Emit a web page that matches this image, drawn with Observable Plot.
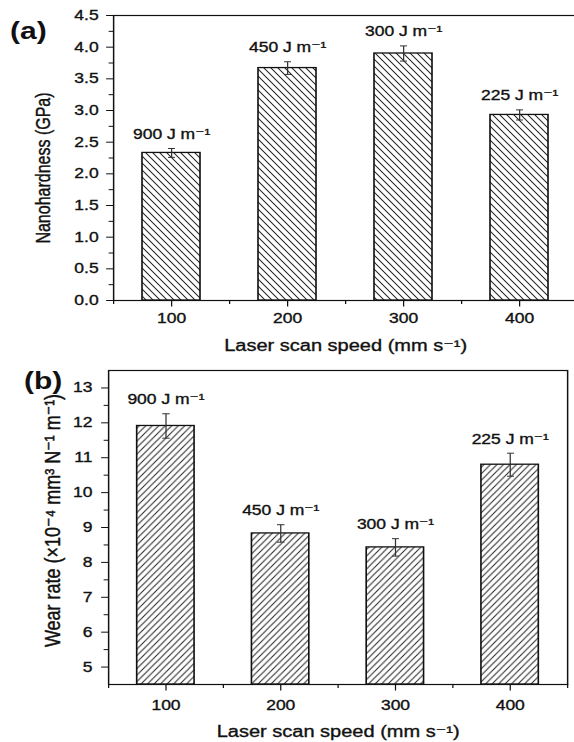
<!DOCTYPE html>
<html><head><meta charset="utf-8">
<script src="https://cdn.jsdelivr.net/npm/d3@7"></script>
<script src="https://cdn.jsdelivr.net/npm/@observablehq/plot@0.6"></script>
<style>
html,body{margin:0;padding:0;background:#fff;width:574px;height:742px;overflow:hidden;}
#chart svg{display:block;}
</style></head><body><div id="chart"></div>
<script>
// ---- data ----
const speeds = [100, 200, 300, 400];
const energyLabels = ["900 J m⁻¹", "450 J m⁻¹", "300 J m⁻¹", "225 J m⁻¹"];
const hardness = [2.33, 3.67, 3.90, 2.93];
const hardnessErr = [0.07, 0.10, 0.12, 0.08];
const wearRate = [11.91, 8.83, 8.43, 10.80];
const wearRateErr = [0.35, 0.25, 0.25, 0.33];
const xDomain = [50, 450];
const xTicks = [100, 200, 300, 400];
const xMinorTicks = [50, 150, 250, 350, 450];
const yDomainA = [0, 4.5];
const yTicksA = [0, 0.5, 1.0, 1.5, 2.0, 2.5, 3.0, 3.5, 4.0, 4.5];
const yMinorTicksA = [0.25, 0.75, 1.25, 1.75, 2.25, 2.75, 3.25, 3.75, 4.25];
const yDomainB = [4.5, 13.5];
const yTicksB = [5, 6, 7, 8, 9, 10, 11, 12, 13];
const yMinorTicksB = [5.5, 6.5, 7.5, 8.5, 9.5, 10.5, 11.5, 12.5];
const barWidth = 50;
const xTitle = "Laser scan speed (mm s⁻¹)";
const yTitleA = "Nanohardness (GPa)";
const yTitleB = "Wear rate (×10⁻⁴ mm³ N⁻¹ m⁻¹)";

// ---- layout ----
const PAGE_W = 574;
const S = 1.25;               // horizontal stretch of the original figure
const W = PAGE_W / S;
const FONT = "'Liberation Sans', Arial, 'DejaVu Sans', sans-serif";

function makePanel(cfg) {
  const data = speeds.map((s, i) => ({speed: s, value: cfg.values[i], err: cfg.errs[i], label: energyLabels[i]}));
  const svg = Plot.plot({
    width: W,
    height: cfg.height,
    marginLeft: cfg.ml, marginRight: cfg.mr, marginTop: cfg.mt, marginBottom: cfg.mb,
    style: {fontFamily: FONT, fontSize: "14px", color: "#111", background: "white"},
    x: {domain: xDomain},
    y: {domain: cfg.yDomain},
    marks: [
      Plot.rect(data, {
        x1: d => d.speed - barWidth / 2, x2: d => d.speed + barWidth / 2,
        y1: cfg.yDomain[0], y2: "value",
        fill: `url(#${cfg.pattern})`, stroke: "#111", strokeWidth: 1.3
      }),
      Plot.link(data, {
        x1: "speed", x2: "speed", y1: d => d.value - d.err, y2: d => d.value + d.err,
        stroke: "#333", strokeWidth: 1, markerStart: "tick", markerEnd: "tick"
      }),
      Plot.text(data, {x: "speed", y: d => d.value + d.err, text: "label", dy: -14, lineAnchor: "middle", fontSize: 14, fill: "#111"}),
      Plot.frame({stroke: "#111", strokeWidth: 1.2}),
      Plot.axisY({ticks: cfg.yTicks, tickFormat: cfg.yFormat, tickSize: 5.5, tickPadding: cfg.ytp, label: null, stroke: "#111", fontSize: 14}),
      Plot.axisY({ticks: cfg.yMinor, tickFormat: () => "", tickSize: 3.5, label: null, stroke: "#111"}),
      Plot.axisX({ticks: xTicks, tickFormat: d => String(d), tickSize: 6.5, tickPadding: cfg.xtp, label: null, stroke: "#111", fontSize: 14}),
      Plot.axisX({ticks: xMinorTicks, tickFormat: () => "", tickSize: 4, label: null, stroke: "#111"}),
      Plot.text([xTitle], {frameAnchor: "bottom", dy: cfg.xTitleDy, lineAnchor: "middle", textAnchor: "middle", fontSize: 16, fill: "#111"}),
      Plot.text([cfg.yTitle], {frameAnchor: "left", rotate: -90, dx: cfg.yTitleDx, dy: cfg.yTitleDy, lineAnchor: "middle", textAnchor: "middle", fontSize: cfg.yTitleSize, fill: "#111"}),
      Plot.text([cfg.panel], {frameAnchor: "top-left", dx: cfg.panelDx, dy: cfg.panelDy, lineAnchor: "middle", textAnchor: "middle", fontSize: 24, fontWeight: "bold", fill: "#111"})
    ]
  });
  // hatch pattern (defined in unstretched units so lines appear at 45° on the page)
  const P = cfg.period, w = P / S, h = P;
  const defs = d3.select(svg).insert("defs", ":first-child");
  const pat = defs.append("pattern").attr("id", cfg.pattern).attr("patternUnits", "userSpaceOnUse")
    .attr("width", w).attr("height", h);
  pat.append("rect").attr("width", w).attr("height", h).attr("fill", "white");
  const dPath = cfg.dir === "back"
    ? `M${-w},${-h}L${2*w},${2*h}M${-w},0L${w},${2*h}M0,${-h}L${2*w},${h}`
    : `M${-w},${2*h}L${2*w},${-h}M${-w},${h}L${w},${-h}M0,${2*h}L${2*w},0`;
  pat.append("path").attr("d", dPath).attr("stroke", "#222").attr("stroke-width", 0.9).attr("fill", "none");
  // slightly heavier text, like the scanned original
  d3.select(svg).selectAll("text").filter(function () { return this.textContent !== "" && !/^\(.\)$/.test(this.textContent); })
    .attr("stroke", "#111").attr("stroke-width", 0.35);
  // stretch horizontally like the original figure
  svg.setAttribute("width", PAGE_W);
  svg.setAttribute("preserveAspectRatio", "none");
  svg.style.width = PAGE_W + "px";
  svg.style.height = cfg.height + "px";
  svg.style.maxWidth = "none";
  return svg;
}

const chart = document.getElementById("chart");
chart.append(makePanel({
  values: hardness, errs: hardnessErr, height: 357,
  ml: 90.4, mr: -2.4, mt: 15, mb: 57,
  yDomain: yDomainA, yTicks: yTicksA, yMinor: yMinorTicksA, yFormat: d3.format(".1f"), ytp: 6.5, xtp: 6.5,
  xTitleDy: 45, yTitle: yTitleA, yTitleDx: -56, yTitleDy: 10, yTitleSize: 16,
  panel: "(a)", panelDx: -68.2, panelDy: 16,
  pattern: "hatchA", period: 7, dir: "back"
}));
chart.append(makePanel({
  values: wearRate, errs: wearRateErr, height: 385,
  ml: 86.4, mr: 5.6, mt: 13, mb: 58,
  yDomain: yDomainB, yTicks: yTicksB, yMinor: yMinorTicksB, yFormat: d => String(d), ytp: 7.4, xtp: 9,
  xTitleDy: 47, yTitle: yTitleB, yTitleDx: -45, yTitleDy: -7, yTitleSize: 18,
  panel: "(b)", panelDx: -52.4, panelDy: 11,
  pattern: "hatchB", period: 6.5, dir: "fwd"
}));
</script></body></html>
